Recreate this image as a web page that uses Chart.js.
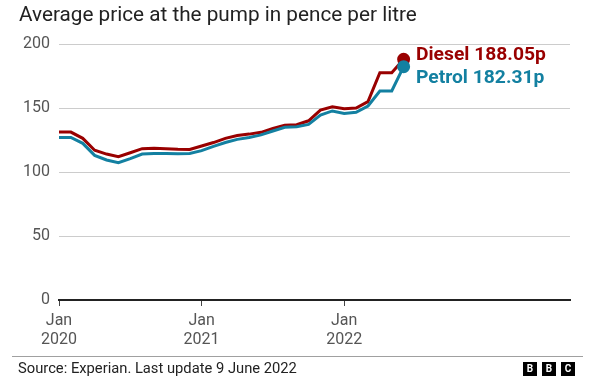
<!DOCTYPE html>
<html>
<head>
<meta charset="utf-8">
<script src="https://cdn.jsdelivr.net/npm/chart.js@4"></script>
<style>
    body { margin: 0; background: #fff; font-family: Roboto, "Noto Sans", sans-serif; }
    #wrap { position: relative; width: 600px; height: 385px; overflow: hidden; }
    #chart { position: absolute; left: 0; top: 0; }
    .title { position: absolute; left: 19px; top: 2px; font-size: 18.5px; color: #222; white-space: nowrap; line-height: 24px; }
    .rule { position: absolute; left: 12px; top: 356px; width: 571px; height: 1px; background: #a0a0a0; }
    .source { position: absolute; left: 18px; top: 359px; font-size: 14.5px; color: #222; white-space: nowrap; line-height: 18px; }
    .bbc { position: absolute; top: 362px; width: 14px; height: 14px; background: #000; color: #fff;
           font: bold 10px Roboto, sans-serif; line-height: 14px; text-align: center; }
</style>
</head>
<body>
<div id="wrap">
    <canvas id="chart" width="600" height="385"></canvas>
    <div class="title" id="title">Average price at the pump in pence per litre</div>
    <div class="rule"></div>
    <div class="source" id="source">Source: Experian. Last update 9 June 2022</div>
    <div class="bbc" style="left:523px">B</div>
    <div class="bbc" style="left:542px">B</div>
    <div class="bbc" style="left:561px">C</div>
</div>
<script>
// months since Jan 2020 (monthly averages)
const months = [0, 1, 2, 3, 4, 5, 6, 7, 8, 9, 10, 11, 12, 13, 14, 15, 16, 17, 18, 19,
    20, 21, 22, 23, 24, 25, 26, 27, 28, 29];
const diesel = [131.2, 131.2, 126.3, 117, 114, 112, 115, 118.2, 118.5, 118.2, 117.7, 117.6,
    120.3, 123, 126.3, 128.5, 129.6, 131, 134, 136.5, 137, 140, 148.4, 151, 149.5, 150,
    155, 177.6, 177.6, 188.05];
const petrol = [127, 127, 122.4, 113, 109.4, 107.3, 110.5, 114, 114.5, 114.5, 114.3, 114.5,
    116.7, 120, 123, 125.5, 127, 129, 132, 135, 135.4, 137.2, 144.5, 147.7, 145.8, 146.6,
    151.6, 163.3, 163.3, 182.31];
const xTicks = [0, 12, 24];
const yTicks = [0, 50, 100, 150, 200];
const endLabels = ['Petrol 182.31p', 'Diesel 188.05p'];

const dieselColor = '#990000';
const petrolColor = '#1380a1';
const lastIdx = months.length - 1;

// the original font is a bit wider than Roboto, so stretch sizes to the same widths
function fitWidth(el, target) {
    const w = el.getBoundingClientRect().width;
    const size = parseFloat(getComputedStyle(el).fontSize);
    el.style.fontSize = (size * target / w).toFixed(2) + 'px';
}
fitWidth(document.getElementById('title'), 398);
fitWidth(document.getElementById('source'), 279);

function toPoints(values) {
    return months.map((m, i) => ({ x: m, y: values[i] }));
}

// label next to the last point of each line
const endLabelPlugin = {
    id: 'endLabels',
    afterDatasetsDraw(chart) {
        const ctx = chart.ctx;
        ctx.save();
        ctx.font = 'bold 17px Roboto, sans-serif';
        const size = 17 * 130 / ctx.measureText(endLabels[1]).width;
        ctx.font = 'bold ' + size.toFixed(2) + 'px Roboto, sans-serif';
        ctx.textBaseline = 'middle';
        ctx.textAlign = 'left';
        chart.data.datasets.forEach((ds, i) => {
            const pt = chart.getDatasetMeta(i).data[lastIdx];
            const dy = i === 0 ? 12 : -4;
            ctx.fillStyle = ds.borderColor;
            ctx.fillText(endLabels[i], 416, pt.y + dy);
        });
        ctx.restore();
    }
};

new Chart(document.getElementById('chart'), {
    type: 'line',
    data: {
        datasets: [
            {
                label: 'Petrol',
                data: toPoints(petrol),
                borderColor: petrolColor,
                backgroundColor: petrolColor,
                borderWidth: 3,
                pointRadius: c => c.dataIndex === lastIdx ? 5 : 0,
                tension: 0
            },
            {
                label: 'Diesel',
                data: toPoints(diesel),
                borderColor: dieselColor,
                backgroundColor: dieselColor,
                borderWidth: 3,
                pointRadius: c => c.dataIndex === lastIdx ? 5 : 0,
                tension: 0
            }
        ]
    },
    options: {
        responsive: false,
        animation: false,
        devicePixelRatio: 1,
        layout: { padding: { top: 44, right: 30, left: 0, bottom: 0 } },
        plugins: {
            legend: { display: false },
            tooltip: { enabled: false }
        },
        scales: {
            x: {
                type: 'linear',
                min: 0,
                max: 43,
                afterBuildTicks: s => { s.ticks = xTicks.map(v => ({ value: v })); },
                afterFit: s => { s.height = 85; },
                border: { display: true, color: '#222', width: 2 },
                grid: { drawOnChartArea: false, drawTicks: true, tickLength: 6, color: '#444', lineWidth: 1 },
                ticks: {
                    padding: 5,
                    maxRotation: 0,
                    color: '#555',
                    font: { family: 'Roboto', size: 16, lineHeight: 1.2 },
                    callback: v => ['Jan', String(2020 + v / 12)]
                }
            },
            y: {
                min: 0,
                max: 200,
                afterBuildTicks: s => { s.ticks = yTicks.map(v => ({ value: v })); },
                afterFit: s => { s.width = 59; },
                border: { display: false },
                grid: {
                    drawTicks: false,
                    color: c => c.tick && c.tick.value === 0 ? 'rgba(0,0,0,0)' : '#cccccc',
                    lineWidth: 1
                },
                ticks: {
                    padding: 9,
                    color: '#555',
                    font: { family: 'Roboto', size: 16 }
                }
            }
        }
    },
    plugins: [endLabelPlugin]
});
</script>
</body>
</html>
